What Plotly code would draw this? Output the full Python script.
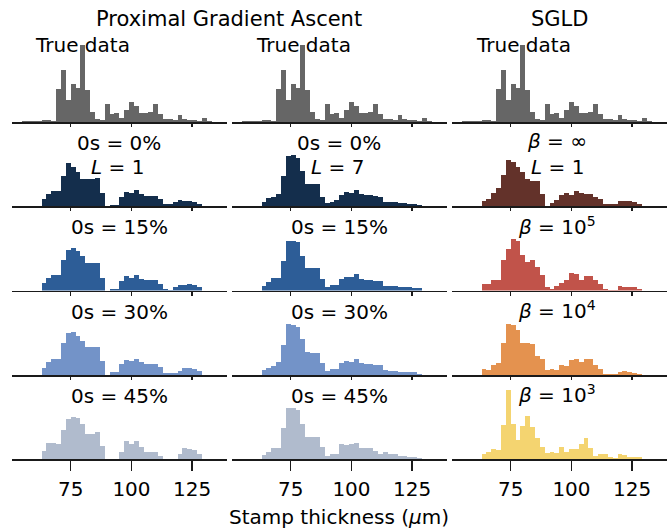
import plotly.graph_objects as go

# ---------------- data (bar heights, arbitrary density units) ----------------
bin_width = 2
centers = [64, 66, 68, 70, 72, 74, 76, 78, 80, 82, 84, 86, 88, 90, 92, 94, 96,
           98, 100, 102, 104, 106, 108, 110, 112, 114, 116, 118, 120, 122, 124, 126, 128]

true_centers = [56, 58, 60, 62] + centers + [130, 132]
true_data = [0.7, 0.7, 0.7, 0.7,
             1.7, 1.7, 0.7, 33, 52, 22, 38, 34, 77, 32, 10, 3.5, 2.5, 18, 8, 9, 4,
             12, 20, 16, 9, 9, 10, 18, 8.5, 3, 3, 2, 7, 3, 2, 2, 1,
             4, 0.7]

pga_L1_os0 = [7, 12, 15, 15, 30, 43, 39, 34, 27, 27, 27, 28, 13, 0, 1.5, 1.5, 9,
              14, 13, 16, 12, 10, 10, 10, 7, 2, 2, 4, 6, 5, 5, 4, 2]
pga_L1_os15 = [8, 12.5, 15.5, 15.5, 31, 40.5, 43, 39.5, 34.5, 28, 28, 28, 13, 0, 2, 2, 9.5,
               14.5, 13, 15.5, 12, 10.5, 10.5, 10.5, 6.5, 2, 1, 4, 6, 6, 6.5, 6, 4]
pga_L1_os30 = [6.7, 13, 16, 16, 31.7, 41.7, 43.3, 39, 34.3, 27.7, 27.7, 28.3, 14.3, 0, 2.5, 2.5, 11,
               15, 14.3, 16, 12.7, 11, 11, 11, 7.7, 2.3, 2.3, 2.3, 4, 7, 7, 6, 4]
pga_L1_os45 = [8.3, 16.7, 16, 15, 29.3, 40.3, 42, 41, 35.3, 25.3, 25.3, 27.7, 13.3, 0, 0, 0, 7.7,
               18.7, 15.3, 18.7, 12, 7.7, 7.7, 7.7, 3.3, 0, 0, 0, 5.3, 11, 10, 9, 5.3]

pga_L7_os0 = [4.7, 8, 9.7, 12.3, 30.3, 50.3, 51.3, 48.7, 35.3, 22.3, 22.3, 22.3, 9.7, 3.7, 4.7, 6.3, 11.3,
              14.7, 13.7, 16.3, 12.3, 11.3, 11.3, 10.3, 9, 4.7, 4.7, 4.7, 3.7, 3, 2.3, 2.3, 1.3]
pga_L7_os15 = [4.8, 8.8, 12.8, 12.8, 29.8, 50, 50, 48.5, 35, 23, 23, 23, 12, 3.8, 5.5, 5.5, 12,
               13.8, 13.8, 16.5, 12, 11, 11, 9.7, 9.7, 4.5, 4.5, 4.5, 3.2, 3.2, 3.2, 2.2, 2.2]
pga_L7_os30 = [4.7, 6.7, 9, 13.3, 30, 50.7, 50, 47.7, 35.7, 23.3, 22.3, 22.3, 11.7, 4.3, 5.7, 5.7, 12.3,
               14.3, 13.3, 16, 11.7, 11, 11, 10, 10, 5, 4.3, 4.3, 3.3, 3.3, 2.7, 2.7, 1]
pga_L7_os45 = [4.3, 7.7, 11, 11, 31, 51, 51, 49, 35.3, 22, 22.7, 22.7, 12.7, 3.7, 5.3, 5.3, 15,
               14, 15.5, 16.5, 11, 11, 11, 8, 5.5, 7, 5, 5, 3.7, 3.7, 2.7, 2.7, 1.7]

sgld_inf = [5.3, 7.3, 13, 18, 31.3, 46.3, 44.7, 39, 34.7, 27, 25.7, 25.7, 12.3, 0.3, 3, 6.3, 11.3,
            13, 11.3, 15.7, 13.7, 12.3, 12.3, 9, 7, 2.3, 2.3, 2.3, 5.7, 5.7, 5.7, 4.7, 2.3]
sgld_1e5 = [6.5, 6.5, 11, 11, 30.5, 42, 51.5, 50, 35.5, 29, 31, 23.8, 16, 3.8, 2, 4.8, 8,
            10.5, 17.8, 16.5, 11, 14.5, 14.5, 11, 6.5, 2, 1, 1, 4.5, 3.8, 3.8, 3.2, 2]
sgld_1e4 = [5.7, 5, 10, 12.3, 32.3, 51, 50, 45, 32.3, 31.7, 31, 19, 15.7, 5, 6, 5, 10,
            9, 15, 15.7, 13.3, 15.7, 15.7, 10, 6, 0.7, 1, 1, 3.3, 4, 2.7, 1.7, 1]
sgld_1e3 = [5.3, 7.7, 10.3, 9.3, 34.3, 69.3, 35, 19.3, 33.3, 43.3, 32.7, 21, 12.7, 6.7, 7.7, 6.7, 12,
            7.7, 10.3, 10.3, 15.3, 21.7, 11, 3.3, 5.3, 5.3, 2.7, 1.7, 5.3, 4.3, 2.7, 2.7, 2.7]

tick_vals = [75, 100, 125]
tick_text = ["75", "100", "125"]

col_titles = ["Proximal Gradient Ascent", "SGLD"]
row_labels_pga = ["True data", "0s = 0%", "0s = 15%", "0s = 30%", "0s = 45%"]
row_labels_sgld = ["True data", "<i>β</i> = ∞", "<i>β</i> = 10<sup>5</sup>",
                   "<i>β</i> = 10<sup>4</sup>", "<i>β</i> = 10<sup>3</sup>"]
x_label = "Stamp thickness (<i>μ</i>m)"

grey = "#666666"
blues = ["#142e4c", "#2d5d97", "#7393c8", "#b0bbcd"]
warms = ["#63322a", "#c1534a", "#e4924f", "#f4d470"]

# ---------------- layout geometry (pixels) ----------------
W, H = 672, 529
col_x = [(11.7, 226.7), (231.7, 446.7), (451.7, 666.7)]
baselines = [122.0, 206.3, 290.6, 375.0, 459.3]
ax_h = 80.85
x_range = [50.7, 139.2]
y_top = 80.85

panels = [
    [(true_centers, true_data, grey), (true_centers, true_data, grey), (true_centers, true_data, grey)],
    [(centers, pga_L1_os0, blues[0]), (centers, pga_L7_os0, blues[0]), (centers, sgld_inf, warms[0])],
    [(centers, pga_L1_os15, blues[1]), (centers, pga_L7_os15, blues[1]), (centers, sgld_1e5, warms[1])],
    [(centers, pga_L1_os30, blues[2]), (centers, pga_L7_os30, blues[2]), (centers, sgld_1e4, warms[2])],
    [(centers, pga_L1_os45, blues[3]), (centers, pga_L7_os45, blues[3]), (centers, sgld_1e3, warms[3])],
]

FONT = "DejaVu Sans"
fig = go.Figure()
layout = dict(
    width=W, height=H, margin=dict(l=0, r=0, t=0, b=0),
    paper_bgcolor="white", plot_bgcolor="white", showlegend=False,
    font=dict(family=FONT, size=20, color="black"), bargap=0,
)

for r in range(5):
    for c in range(3):
        k = r * 3 + c + 1
        xs, ys, color = panels[r][c]
        sfx = "" if k == 1 else str(k)
        fig.add_trace(go.Bar(x=xs, y=ys, width=bin_width, marker=dict(color=color, line=dict(width=0)),
                             xaxis="x" + sfx, yaxis="y" + sfx, hoverinfo="skip"))
        b = baselines[r]
        bottom = r == 4
        layout["xaxis" + sfx] = dict(
            domain=[col_x[c][0] / W, col_x[c][1] / W], anchor="y" + sfx, range=x_range,
            showgrid=False, zeroline=False, showline=True, linecolor="#1a1a1a", linewidth=1.5,
            ticks="outside", tickvals=tick_vals, ticktext=tick_text, ticklen=10 if bottom else 3.5,
            tickwidth=1.5, tickcolor="#1a1a1a", showticklabels=bottom,
            tickfont=dict(family=FONT, size=20, color="black"), ticklabelstandoff=1, fixedrange=True,
        )
        layout["yaxis" + sfx] = dict(
            domain=[1 - b / H, 1 - (b - ax_h) / H], anchor="x" + sfx, range=[0, y_top],
            visible=False, fixedrange=True,
        )

ann = []
def add_text(txt, px, py, size=20):
    ann.append(dict(text=txt, x=px / W, y=1 - py / H, xref="paper", yref="paper",
                    xanchor="center", yanchor="middle", showarrow=False,
                    font=dict(family=FONT, size=size, color="black")))

add_text(col_titles[0], 229, 18.5, 21)
add_text(col_titles[1], 559, 18.5, 21)
for c, cx in enumerate([82.5, 303, 523]):
    add_text(row_labels_pga[0], cx, 44.5)
for r in range(1, 5):
    top = baselines[r] - ax_h
    add_text(row_labels_pga[r], 119, top + 17.5)
    add_text(row_labels_pga[r], 339, top + 17.5)
    add_text(row_labels_sgld[r], 557, top + 16)
add_text("<i>L</i> = 1", 117, 166.5)
add_text("<i>L</i> = 7", 337, 166.5)
add_text("<i>L</i> = 1", 557, 166.5)
add_text(x_label, 339, 517)

layout["annotations"] = ann
fig.update_layout(**layout)
fig.write_html(
    "out.html",
    config={"displayModeBar": False, "staticPlot": True},
    post_script="document.body.style.margin='0';document.body.style.overflow='hidden';",
)
